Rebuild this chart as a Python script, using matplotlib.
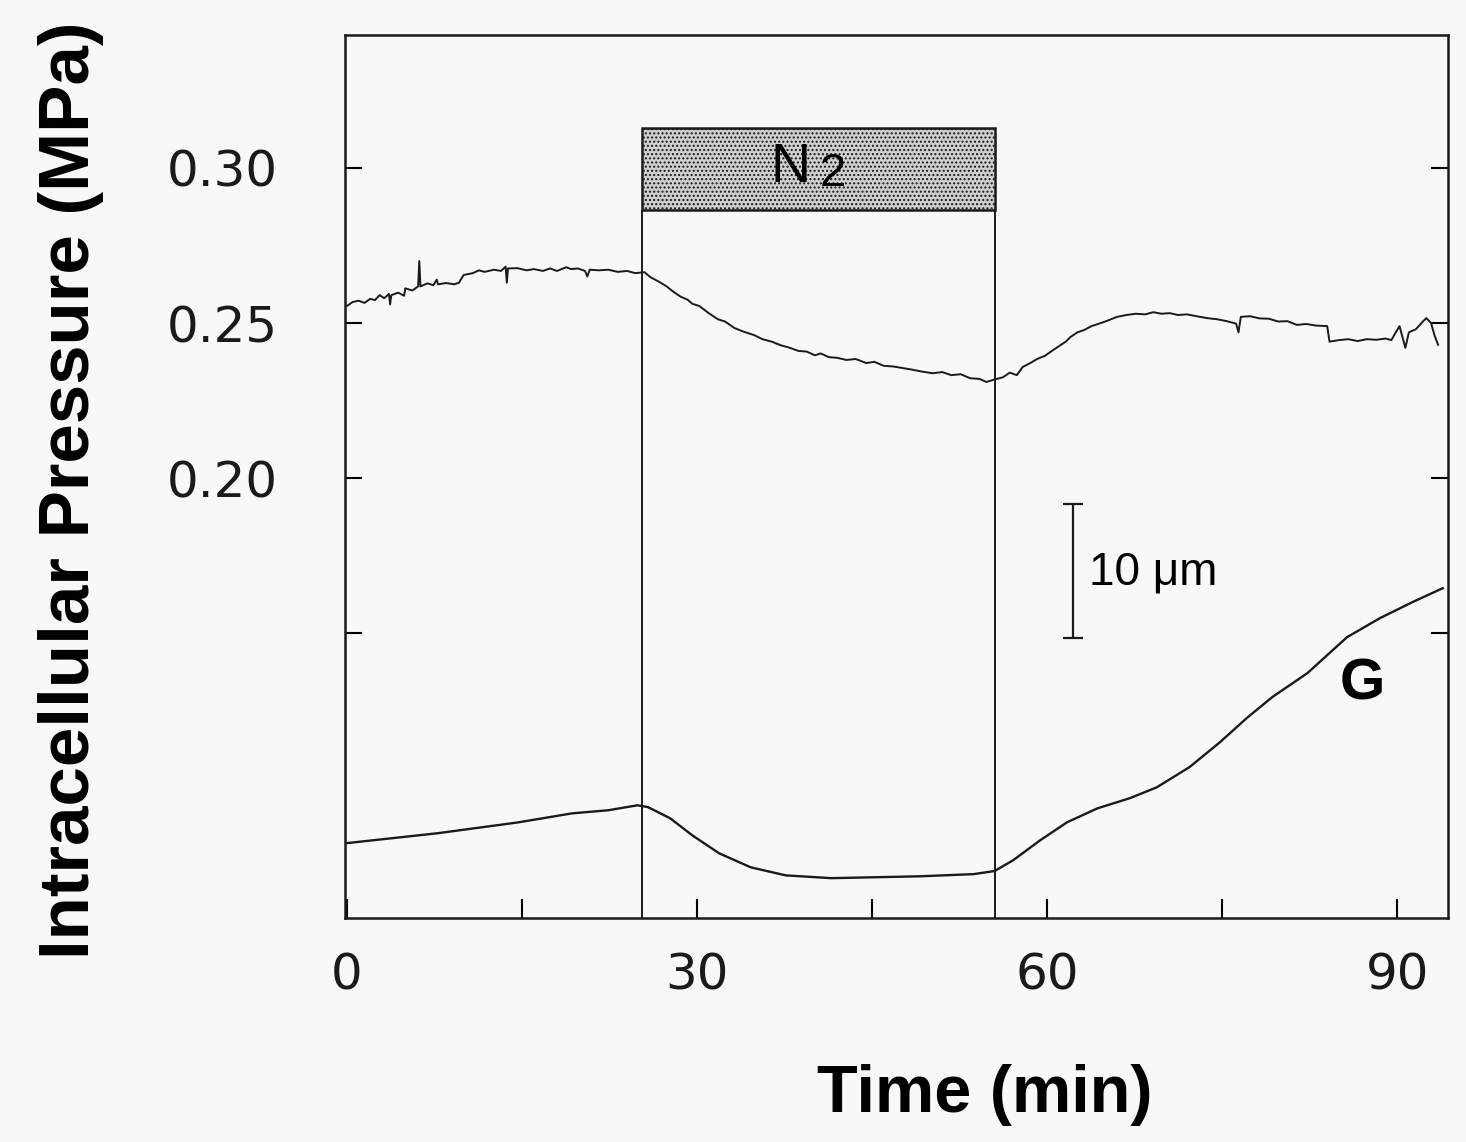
import matplotlib
matplotlib.use("Agg")
import matplotlib.pyplot as plt
from matplotlib.patches import Rectangle
from matplotlib.ticker import FixedLocator

# intracellular pressure trace (min, MPa)
t_pressure = [0.0, 0.5, 1.0, 1.5, 2.0, 2.4, 2.8, 3.2, 3.6, 3.7, 3.8, 4.4, 4.9, 5.0,
              5.6, 6.1, 6.2, 6.3, 6.9, 7.4, 7.7, 7.8, 8.5, 9.2, 9.6, 10.0, 10.8, 11.3,
              11.8, 12.6, 13.2, 13.6, 13.7, 13.8, 14.6, 15.4, 16.0, 16.8, 17.4, 18.0,
              18.8, 19.2, 19.8, 20.4, 20.6, 20.8, 21.6, 22.4, 23.2, 24.0, 24.7, 25.5,
              26.0, 26.8, 27.4, 28.0, 28.6, 29.2, 29.6, 30.2, 31.0, 31.8, 32.4, 33.2,
              34.0, 34.9, 35.6, 36.4, 37.2, 37.8, 38.7, 39.4, 40.1, 40.6, 41.3, 42.0,
              42.8, 43.6, 44.5, 45.2, 46.0, 46.8, 47.6, 48.4, 49.2, 50.2, 51.0, 51.8,
              52.6, 53.4, 54.2, 54.8, 55.5, 56.2, 56.8, 57.4, 57.9, 58.6, 59.2, 59.8,
              60.4, 61.0, 61.6, 62.0, 62.6, 63.2, 63.8, 64.6, 65.2, 66.0, 66.8, 67.6,
              68.4, 69.1, 69.8, 70.5, 71.2, 72.0, 72.8, 73.7, 74.6, 75.4, 76.2, 76.4,
              76.6, 77.4, 78.2, 79.0, 79.8, 80.6, 81.4, 82.2, 83.0, 84.0, 84.2, 85.0,
              85.8, 86.6, 87.4, 88.2, 89.0, 89.5, 89.8, 90.2, 90.7, 91.0, 91.6, 92.2,
              92.5, 92.9, 93.2, 93.5]
pressure = [0.2555, 0.2568, 0.2572, 0.2565, 0.2578, 0.2574, 0.2590, 0.2580, 0.2594,
            0.2560, 0.2590, 0.2598, 0.2588, 0.2612, 0.2605, 0.2618, 0.2700, 0.2618,
            0.2628, 0.2622, 0.2640, 0.2625, 0.2629, 0.2625, 0.2630, 0.2655, 0.2661,
            0.2670, 0.2665, 0.2672, 0.2668, 0.2682, 0.2630, 0.2676, 0.2677, 0.2670,
            0.2674, 0.2668, 0.2676, 0.2668, 0.2680, 0.2674, 0.2676, 0.2668, 0.2650,
            0.2672, 0.2670, 0.2672, 0.2665, 0.2668, 0.2661, 0.2664, 0.2648, 0.2632,
            0.2618, 0.2600, 0.2585, 0.2575, 0.2562, 0.2555, 0.2532, 0.2512, 0.2505,
            0.2484, 0.2472, 0.2461, 0.2448, 0.2440, 0.2428, 0.2422, 0.2410, 0.2408,
            0.2396, 0.2402, 0.2390, 0.2388, 0.2381, 0.2384, 0.2371, 0.2375, 0.2362,
            0.2360, 0.2355, 0.2350, 0.2344, 0.2338, 0.2342, 0.2332, 0.2335, 0.2322,
            0.2320, 0.2310, 0.2318, 0.2325, 0.2340, 0.2332, 0.2358, 0.2372, 0.2385,
            0.2394, 0.2410, 0.2425, 0.2440, 0.2455, 0.2470, 0.2478, 0.2490, 0.2500,
            0.2508, 0.2520, 0.2526, 0.2530, 0.2528, 0.2535, 0.2530, 0.2532, 0.2526,
            0.2528, 0.2522, 0.2516, 0.2512, 0.2506, 0.2498, 0.2470, 0.2520, 0.2522,
            0.2515, 0.2514, 0.2505, 0.2506, 0.2494, 0.2497, 0.2492, 0.2490, 0.2440,
            0.2445, 0.2448, 0.2442, 0.2448, 0.2446, 0.2450, 0.2445, 0.2465, 0.2490,
            0.2420, 0.2470, 0.2480, 0.2505, 0.2516, 0.2500, 0.2460, 0.2430]

# growth trace G (drawn on the same scale, arbitrary units)
t_growth = [0.0, 7.8, 14.7, 19.3, 22.4, 24.9, 25.8, 27.7, 29.6, 31.9, 34.6, 37.6,
            41.5, 45.3, 49.1, 53.7, 55.5, 57.1, 59.4, 61.7, 64.3, 67.1, 69.4, 72.2,
            74.8, 77.1, 79.3, 82.3, 85.7, 88.5, 91.3, 93.9]
growth = [0.0823, 0.0855, 0.0890, 0.0919, 0.0929, 0.0945, 0.0939, 0.0903, 0.0848,
          0.0790, 0.0745, 0.0719, 0.0710, 0.0713, 0.0716, 0.0723, 0.0733, 0.0768,
          0.0832, 0.0890, 0.0935, 0.0968, 0.1003, 0.1068, 0.1148, 0.1226, 0.1294,
          0.1371, 0.1487, 0.1548, 0.1600, 0.1645]

n2_start, n2_end = 25.3, 55.5
x_ticks = [0, 30, 60, 90]
x_minor = [15, 45, 75]
y_ticks = [0.20, 0.25, 0.30]
y_minor = [0.15]

fig = plt.figure(figsize=(14.66, 11.42), dpi=100, facecolor="#f8f8f6")
ax = fig.add_axes([0.2353, 0.196, 0.7524, 0.7734])
ax.set_facecolor("#f8f8f6")

ax.plot(t_pressure, pressure, color="#1a1a1a", lw=1.4)
ax.plot(t_growth, growth, color="#1a1a1a", lw=1.7)

ax.set_xlim(-0.17, 94.35)
ax.set_ylim(0.0581, 0.3429)

# N2 bar and period lines
box_lo, box_hi = 0.2865, 0.3130
ax.add_patch(Rectangle((n2_start, box_lo), n2_end - n2_start, box_hi - box_lo,
                       facecolor="#cfcfcf", edgecolor="#1a1a1a", lw=1.8,
                       hatch="....", zorder=3))
ax.vlines([n2_start, n2_end], 0.0581, box_lo, color="#1a1a1a", lw=1.4)
ax.text(38.0, 0.3000, "N", fontsize=40, family="Liberation Sans",
        ha="center", va="center", zorder=4)
ax.text(41.6, 0.2982, "2", fontsize=34, family="Liberation Sans",
        ha="center", va="center", zorder=4)

# scale bar
ax.errorbar([62.2], [0.1701], yerr=[0.0215], color="#1a1a1a", lw=1.6,
            capsize=7, capthick=1.6)
ax.text(63.6, 0.1697, "10 μm", fontsize=33, family="Liberation Sans",
        ha="left", va="center")
ax.text(87.0, 0.1335, "G", fontsize=42, fontweight="bold",
        family="Liberation Sans", ha="center", va="center")

ax.xaxis.set_major_locator(FixedLocator(x_ticks))
ax.xaxis.set_minor_locator(FixedLocator(x_minor))
ax.yaxis.set_major_locator(FixedLocator(y_ticks + y_minor))
ax.set_yticklabels([f"{v:.2f}" for v in y_ticks] + [""])
ax.tick_params(axis="x", which="both", direction="in", length=14, width=1.5,
               top=False, labelsize=36, pad=24)
ax.tick_params(axis="y", which="both", direction="in", length=12, width=1.5,
               right=True, labelsize=36, pad=48)
for lab in ax.get_xticklabels() + ax.get_yticklabels():
    lab.set_family("DejaVu Sans")
    lab.set_color("#1a1a1a")
for sp in ax.spines.values():
    sp.set_linewidth(1.8)
    sp.set_color("#1a1a1a")

ax.set_xlabel("Time (min)", fontsize=48, fontweight="bold", family="Liberation Sans")
ax.xaxis.set_label_coords(0.58, -0.165)
ax.set_ylabel("Intracellular Pressure (MPa)", fontsize=51, fontweight="bold",
              family="Liberation Sans")
ax.yaxis.set_label_coords(-0.218, 0.485)

plt.savefig("out.png", dpi=100, facecolor=fig.get_facecolor())
